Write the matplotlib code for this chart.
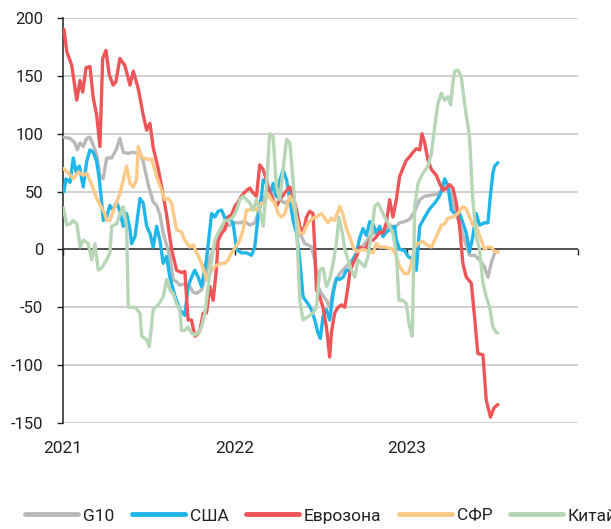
import matplotlib
matplotlib.use("Agg")
import matplotlib.pyplot as plt
import numpy as np

plt.rcParams['font.family'] = ['Roboto', 'DejaVu Sans']
plt.rcParams['axes.unicode_minus'] = False

# ---- data (time in fractional years after 2021, values) ----
g10_t = [0.002,0.041,0.070,0.083,0.099,0.118,0.138,0.157,0.176,0.196,0.215,0.234,0.254,0.283,0.312,0.331,0.351,0.380,0.409,0.448,
         0.467,0.496,0.525,0.545,0.564,0.583,0.622,0.641,0.661,0.680,0.699,0.738,0.758,0.777,0.806,0.826,0.845,0.874,0.903,0.923,
         0.942,0.971,1.000,1.029,1.058,1.087,1.116,1.135,1.155,1.174,1.203,1.233,1.262,1.291,1.320,1.349,1.378,1.407,1.426,1.446,
         1.465,1.484,1.504,1.533,1.552,1.581,1.610,1.640,1.669,1.698,1.727,1.756,1.785,1.814,1.843,1.872,1.901,1.930,1.959,1.988,
         2.017,2.047,2.076,2.105,2.144,2.182,2.221,2.250,2.279,2.308,2.337,2.366,2.395,2.424,2.453,2.473,2.492,2.512,2.531]
g10_v = [97,96,92,86,92,89,96,97,90,82,64,61,79,79,87,96,84,83,84,82,
         76,56,41,38,30,14,-6,-26,-28,-31,-30,-32,-37,-38,-35,-26,-12,0,8,14,
         20,21,23,23,24,21,23,31,40,46,48,47,43,40,43,28,14,5,4,2,
         -9,-32,-38,-44,-50,-29,-21,-16,-12,-6,0,5,11,15,14,17,21,19,23,24,
         26,33,43,46,47,48,54,51,34,22,8,-5,-5,-9,-15,-24,-12,-3,-2]

usa_t = [0.006,0.017,0.041,0.060,0.076,0.095,0.118,0.138,0.157,0.176,0.196,0.211,0.225,0.234,0.254,0.273,0.292,0.312,0.331,0.351,
         0.370,0.390,0.399,0.419,0.448,0.467,0.487,0.506,0.525,0.545,0.564,0.583,0.603,0.622,0.651,0.680,0.709,0.728,0.748,0.767,
         0.787,0.806,0.835,0.865,0.884,0.903,0.923,0.942,0.961,0.990,1.010,1.038,1.068,1.097,1.116,1.135,1.155,1.165,1.184,1.203,
         1.223,1.242,1.262,1.281,1.301,1.320,1.339,1.359,1.378,1.397,1.426,1.446,1.465,1.484,1.498,1.513,1.533,1.552,1.572,1.591,
         1.610,1.630,1.649,1.669,1.688,1.708,1.727,1.746,1.766,1.785,1.804,1.824,1.843,1.862,1.882,1.930,1.940,1.959,1.988,2.008,
         2.027,2.047,2.056,2.076,2.105,2.134,2.163,2.182,2.202,2.221,2.240,2.260,2.279,2.308,2.327,2.347,2.366,2.385,2.405,2.424,
         2.453,2.473,2.488,2.502,2.512,2.531]
usa_v = [50,61,58,79,67,72,54,76,86,84,76,61,41,25,28,38,34,41,33,20,
         31,17,5,11,44,40,20,14,2,20,8,-12,-6,-24,-40,-52,-57,-32,-24,-18,
         -24,-32,-9,31,28,33,34,27,28,23,0,-3,-3,-5,2,28,46,60,57,46,
         57,46,60,69,60,43,25,14,-9,-41,-47,-52,-61,-72,-77,-58,-52,-61,-38,-25,
         -26,-24,-18,-18,-9,-3,10,18,12,24,22,14,20,11,15,20,8,0,-1,-6,
         -8,-3,-18,20,28,35,40,44,50,61,55,34,31,31,23,14,-2,11,31,21,
         23,23,48,66,72,75]

euro_t = [0.006,0.022,0.051,0.080,0.099,0.115,0.134,0.157,0.176,0.196,0.215,0.231,0.250,0.269,0.292,0.308,0.331,0.360,0.390,0.409,
          0.438,0.467,0.487,0.506,0.525,0.554,0.583,0.603,0.632,0.661,0.690,0.709,0.728,0.748,0.767,0.777,0.797,0.816,0.835,0.855,
          0.874,0.894,0.903,0.923,0.942,0.961,0.981,1.000,1.019,1.038,1.068,1.087,1.106,1.126,1.145,1.165,1.184,1.203,1.223,1.242,
          1.262,1.291,1.320,1.339,1.359,1.378,1.397,1.417,1.436,1.455,1.465,1.475,1.494,1.513,1.533,1.552,1.562,1.581,1.601,1.620,
          1.640,1.659,1.669,1.688,1.708,1.727,1.746,1.766,1.785,1.804,1.824,1.843,1.862,1.882,1.901,1.920,1.940,1.959,1.978,1.998,
          2.017,2.037,2.056,2.076,2.089,2.105,2.124,2.144,2.173,2.192,2.211,2.231,2.250,2.269,2.289,2.308,2.327,2.347,2.376,2.395,
          2.414,2.444,2.463,2.488,2.508,2.531]
euro_v = [190,171,159,129,146,136,157,158,131,116,89,165,172,151,142,145,165,159,142,154,
          139,116,103,109,88,70,47,30,0,-18,-20,-19,-61,-61,-75,-74,-70,-55,-55,-32,
          -44,-15,8,14,17,28,30,37,41,46,51,53,49,46,73,69,60,49,43,37,
          43,49,54,46,34,20,14,28,33,31,2,-35,-41,-50,-67,-93,-72,-55,-50,-48,
          -50,-32,-20,-12,-6,2,0,2,8,8,11,15,14,23,43,28,43,63,70,77,
          80,84,87,86,100,92,77,69,64,57,51,53,56,53,40,20,-12,-24,-29,-58,
          -90,-91,-130,-145,-137,-134]

sfr_t = [0.002,0.031,0.060,0.089,0.118,0.138,0.167,0.196,0.225,0.244,0.254,0.273,0.302,0.331,0.360,0.370,0.390,0.409,0.428,0.438,
         0.458,0.487,0.516,0.545,0.574,0.593,0.612,0.632,0.661,0.690,0.709,0.738,0.758,0.777,0.787,0.806,0.826,0.835,0.855,0.874,
         0.903,0.923,0.942,0.961,0.981,1.000,1.029,1.048,1.068,1.087,1.106,1.126,1.155,1.174,1.194,1.213,1.233,1.252,1.271,1.291,
         1.320,1.339,1.359,1.378,1.397,1.426,1.455,1.475,1.504,1.523,1.542,1.562,1.581,1.610,1.630,1.649,1.669,1.688,1.708,1.746,
         1.785,1.804,1.824,1.843,1.872,1.901,1.920,1.940,1.959,1.988,2.008,2.027,2.047,2.066,2.095,2.115,2.144,2.173,2.202,2.221,
         2.240,2.269,2.298,2.327,2.347,2.366,2.385,2.405,2.434,2.453,2.473,2.492,2.512,2.531]
sfr_v = [70,66,61,67,64,66,56,44,36,31,25,25,37,48,66,72,57,54,60,89,
         80,78,78,63,51,43,44,40,17,15,8,2,4,-3,-5,-12,-21,-26,-21,-16,
         -13,-12,-12,-9,-3,1,8,17,34,34,37,34,40,40,48,43,40,31,28,31,
         46,40,27,14,14,23,27,28,31,27,23,27,25,37,30,18,11,2,-2,0,
         -2,-3,5,2,2,1,0,-6,-15,-21,-21,-13,2,5,7,4,2,11,21,22,
         27,28,31,37,35,28,21,20,8,0,2,2,-2,-2]

china_t = [0.002,0.022,0.041,0.060,0.080,0.089,0.099,0.118,0.147,0.167,0.186,0.205,0.225,0.254,0.273,0.283,0.312,0.341,0.351,0.370,
           0.380,0.419,0.448,0.458,0.487,0.502,0.525,0.554,0.583,0.603,0.622,0.641,0.661,0.680,0.690,0.709,0.728,0.748,0.767,0.787,
           0.806,0.826,0.845,0.865,0.884,0.903,0.923,0.942,0.961,0.990,1.010,1.029,1.048,1.068,1.087,1.106,1.126,1.145,1.165,1.184,
           1.203,1.223,1.242,1.262,1.281,1.301,1.320,1.339,1.359,1.378,1.397,1.426,1.455,1.475,1.494,1.513,1.533,1.552,1.572,1.591,
           1.606,1.626,1.640,1.659,1.678,1.698,1.717,1.737,1.756,1.775,1.795,1.814,1.833,1.853,1.872,1.901,1.920,1.940,1.955,1.978,
           1.998,2.017,2.033,2.047,2.066,2.095,2.124,2.144,2.163,2.182,2.202,2.221,2.240,2.256,2.269,2.279,2.298,2.318,2.337,2.366,
           2.385,2.405,2.424,2.444,2.463,2.483,2.502,2.521,2.531]
china_v = [36,21,22,25,22,14,2,8,5,-9,5,-18,-16,-9,-3,20,22,34,37,20,
           -50,-50,-55,-75,-78,-84,-52,-48,-41,-26,-35,-38,-47,-52,-70,-70,-67,-72,-74,-72,
           -67,-55,-32,-9,8,14,20,25,25,28,34,43,46,43,40,34,43,34,20,54,
           100,97,54,43,69,95,92,60,20,-44,-61,-58,-55,-50,-18,-16,-32,-26,-12,5,
           28,14,0,-9,-18,-24,-9,-12,-15,-6,14,37,40,34,28,20,14,-3,-44,-44,
           -47,-67,-75,37,57,66,72,83,106,126,135,129,132,125,144,154,155,149,126,97,
           43,11,0,-29,-41,-50,-67,-72,-72]

series = [
    ("G10", g10_t, g10_v, "#b9b9b9"),
    ("США", usa_t, usa_v, "#1fb6ea"),
    ("Еврозона", euro_t, euro_v, "#ee5558"),
    ("СФР", sfr_t, sfr_v, "#fdc986"),
    ("Китай", china_t, china_v, "#b6d6b6"),
]
base_year = 2021
year_ticks = [2021, 2022, 2023]
y_ticks = [-150, -100, -50, 0, 50, 100, 150, 200]

fig = plt.figure(figsize=(6.11, 5.29), dpi=100)
ax = fig.add_axes([0.1031, 0.2004, 0.8437, 0.7656])

for yv in y_ticks:
    if yv != 0:
        ax.axhline(yv, color="#c4c4c4", lw=1.1, zorder=1)
ax.axhline(0, color="#222222", lw=1.1, zorder=2)

for name, t, v, c in series:
    ax.plot(np.array(t) + base_year, v, color=c, lw=2.4, label=name, zorder=3,
            solid_joinstyle="round", solid_capstyle="round")

ax.set_xlim(2021, 2024)
ax.set_ylim(-150, 200)
ax.set_yticks(y_ticks)
ax.set_yticklabels([str(v) for v in y_ticks])
for s in ["top", "right"]:
    ax.spines[s].set_visible(False)
ax.spines["left"].set_color("#222222")
ax.spines["left"].set_linewidth(1.1)
ax.spines["bottom"].set_position(("data", 0))
ax.spines["bottom"].set_visible(False)
ax.set_xticks([2021, 2022, 2023, 2024])
ax.tick_params(axis="x", length=4, width=1, color="#222222", direction="out", labelbottom=False)
ax.tick_params(axis="y", length=4.3, width=1, color="#222222", direction="out", pad=10,
               labelsize=12, labelcolor="#222222")

sec = ax.secondary_xaxis(0.0)
sec.set_xticks(year_ticks)
sec.set_xticklabels([str(y) for y in year_ticks])
sec.tick_params(length=0, pad=13, labelsize=12.5, labelcolor="#222222")
sec.spines["bottom"].set_visible(False)

leg = fig.legend(loc="center left", bbox_to_anchor=(0.041, 0.0246), ncol=5, frameon=False,
                 fontsize=12.5, handlelength=3.05, handletextpad=0.29, columnspacing=1.0,
                 borderaxespad=0, borderpad=0)
for line in leg.get_lines():
    line.set_linewidth(3.5)
for txt in leg.get_texts():
    txt.set_color("#222222")

fig.savefig("out.png", dpi=100)
